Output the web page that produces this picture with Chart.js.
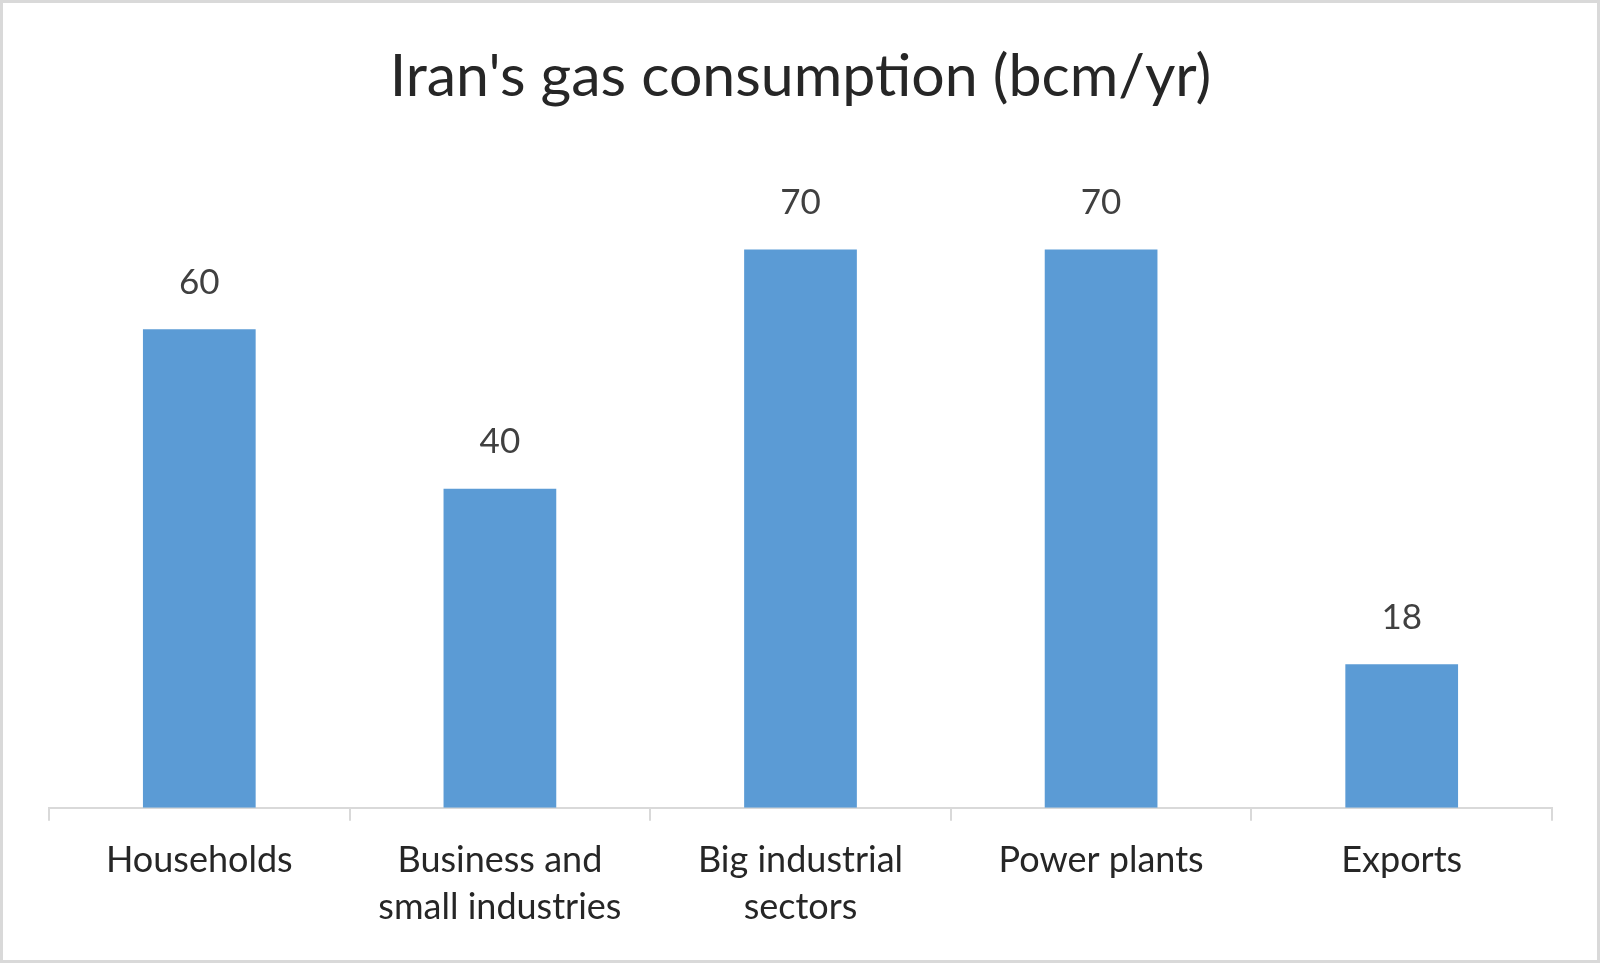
<!DOCTYPE html>
<html>
<head>
<meta charset="utf-8">
<script src="https://cdn.jsdelivr.net/npm/chart.js@4.4.0/dist/chart.umd.min.js"></script>
<style>
  html, body { margin: 0; padding: 0; background: #fff; }
  canvas { display: block; }
</style>
</head>
<body>
<canvas id="gasChart" width="1600" height="963"></canvas>
<script>
const categories = ['Households', ['Business and', 'small industries'], ['Big industrial', 'sectors'], 'Power plants', 'Exports']
const consumption = [60, 40, 70, 70, 18]
const chartTitle = "Iran's gas consumption (bcm/yr)"

// draws the value above each bar
const valueLabels = {
  id: 'valueLabels',
  afterDatasetsDraw(chart) {
    const ctx = chart.ctx
    const meta = chart.getDatasetMeta(0)
    ctx.save()
    ctx.font = '35px Lato'
    ctx.fillStyle = '#404040'
    ctx.textAlign = 'center'
    ctx.textBaseline = 'middle'
    meta.data.forEach((bar, i) => {
      ctx.fillText(chart.data.datasets[0].data[i], bar.x, bar.y - 47)
    })
    ctx.restore()
  }
}

// white background and grey frame
const frame = {
  id: 'frame',
  beforeDraw(chart) {
    const ctx = chart.ctx
    ctx.save()
    ctx.fillStyle = '#ffffff'
    ctx.fillRect(0, 0, chart.width, chart.height)
    ctx.restore()
  },
  afterDraw(chart) {
    const ctx = chart.ctx
    ctx.save()
    ctx.strokeStyle = '#d9d9d9'
    ctx.lineWidth = 3
    ctx.strokeRect(1.5, 1.5, chart.width - 3, chart.height - 3)
    ctx.restore()
  }
}

const config = {
  type: 'bar',
  data: {
    labels: categories,
    datasets: [{
      data: consumption,
      backgroundColor: '#5b9bd5',
      borderWidth: 0,
      barPercentage: 0.375,
      categoryPercentage: 1.0
    }]
  },
  options: {
    responsive: false,
    animation: false,
    devicePixelRatio: 1,
    layout: {
      padding: { left: 49, right: 48, top: 0, bottom: 16 }
    },
    plugins: {
      legend: { display: false },
      tooltip: { enabled: false },
      title: {
        display: true,
        text: chartTitle,
        color: '#262626',
        font: { family: 'Lato', size: 59, weight: 'normal', lineHeight: 1.2 },
        padding: { top: 42, bottom: 57 }
      }
    },
    scales: {
      x: {
        grid: {
          display: true,
          drawOnChartArea: false,
          drawTicks: true,
          tickLength: 13,
          color: '#d9d9d9',
          lineWidth: 2
        },
        border: { display: true, color: '#d9d9d9', width: 2 },
        ticks: {
          color: '#262626',
          padding: 17,
          maxRotation: 0,
          autoSkip: false,
          font: { family: 'Lato', size: 36, lineHeight: 1.28 }
        }
      },
      y: {
        display: false,
        min: 0,
        max: 80
      }
    }
  },
  plugins: [frame, valueLabels]
}

const gasChart = new Chart(document.getElementById('gasChart'), config)
</script>
</body>
</html>
